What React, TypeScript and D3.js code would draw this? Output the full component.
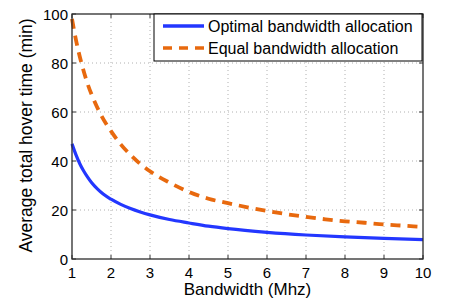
import React from "react";
import * as d3 from "d3";

// values
const optimalX = [1, 1.1, 1.2, 1.3, 1.4, 1.5, 1.65, 1.8, 2, 2.25, 2.5, 2.75, 3, 3.5, 4, 4.5, 5, 6, 7, 8, 9, 10];
const optimalY = [47, 42.6, 38.9, 35.9, 33.4, 31.2, 28.6, 26.5, 24.4, 22.3, 20.6, 19.2, 18.0, 16.1, 14.7, 13.4, 12.4, 10.9, 9.8, 9.0, 8.4, 7.9];

const equalX = [1, 1.1, 1.25, 1.4, 1.55, 1.75, 2, 2.25, 2.5, 2.75, 3, 3.5, 4, 4.5, 5, 5.5, 6, 6.5, 7, 7.5, 8, 8.5, 9, 9.5, 10];
const equalY = [98, 89.5, 79.5, 71.5, 65.3, 58.6, 52.2, 46.8, 42.5, 38.8, 35.8, 31.2, 27.4, 24.6, 22.8, 21.1, 19.6, 18.3, 17.2, 16.2, 15.4, 14.8, 14.1, 13.6, 13.1];

const xTicks = [1, 2, 3, 4, 5, 6, 7, 8, 9, 10];
const yTicks = [0, 20, 40, 60, 80, 100];

const seriesNames = ["Optimal bandwidth allocation", "Equal bandwidth allocation"];
const seriesColors = ["#2337ff", "#e8690e"];

const W = 452;
const H = 302;
const margin = { top: 14, right: 29, bottom: 43, left: 72 };
const font = "Liberation Sans, Arial, sans-serif";

export default function App() {
  const x = d3.scaleLinear().domain([1, 10]).range([margin.left, W - margin.right]);
  const y = d3.scaleLinear().domain([0, 100]).range([H - margin.bottom, margin.top]);

  const line = d3
    .line<[number, number]>()
    .x((d) => x(d[0]))
    .y((d) => y(d[1]))
    .curve(d3.curveMonotoneX);

  const optPts = optimalX.map((v, i) => [v, optimalY[i]] as [number, number]);
  const eqPts = equalX.map((v, i) => [v, equalY[i]] as [number, number]);

  const [x0, x1] = x.range();
  const [y0, y1] = y.range(); // y0 bottom, y1 top

  // legend
  const lg = { x: 154, y: 14, w: 268, h: 47 };

  return (
    <svg width={W} height={H} style={{ position: "absolute", left: 0, top: 0, fontFamily: font }}>
      <rect x={0} y={0} width={W} height={H} fill="#fff" />

      {/* grid */}
      <g stroke="#b0b0b0" strokeWidth={1} strokeDasharray="1,3">
        {xTicks.slice(1, -1).map((t) => (
          <line key={"gx" + t} x1={x(t)} x2={x(t)} y1={y0} y2={y1} />
        ))}
        {yTicks.slice(1, -1).map((t) => (
          <line key={"gy" + t} x1={x0} x2={x1} y1={y(t)} y2={y(t)} />
        ))}
      </g>

      {/* ticks, inward on all sides */}
      <g stroke="#333" strokeWidth={1}>
        {xTicks.map((t) => (
          <g key={"tx" + t}>
            <line x1={x(t)} x2={x(t)} y1={y0} y2={y0 - 4} />
            <line x1={x(t)} x2={x(t)} y1={y1} y2={y1 + 4} />
          </g>
        ))}
        {yTicks.map((t) => (
          <g key={"ty" + t}>
            <line x1={x0} x2={x0 + 4} y1={y(t)} y2={y(t)} />
            <line x1={x1} x2={x1 - 4} y1={y(t)} y2={y(t)} />
          </g>
        ))}
      </g>

      {/* series */}
      <path d={line(optPts) ?? ""} fill="none" stroke={seriesColors[0]} strokeWidth={3.2} />
      <path
        d={line(eqPts) ?? ""}
        fill="none"
        stroke={seriesColors[1]}
        strokeWidth={3.8}
        strokeDasharray="10,7"
      />

      {/* box */}
      <rect x={x0} y={y1} width={x1 - x0} height={y0 - y1} fill="none" stroke="#2b2b2b" strokeWidth={1.3} />

      {/* tick labels */}
      <g fontSize={15} fill="#000">
        {xTicks.map((t) => (
          <text key={"lx" + t} x={x(t)} y={y0 + 19} textAnchor="middle">
            {t}
          </text>
        ))}
        {yTicks.map((t) => (
          <text key={"ly" + t} x={x0 - 4} y={y(t) + 5.5} textAnchor="end">
            {t}
          </text>
        ))}
      </g>

      {/* axis labels */}
      <text x={(x0 + x1) / 2} y={295} textAnchor="middle" fontSize={17}>
        Bandwidth (Mhz)
      </text>
      <text
        transform={`translate(31.5,${(y0 + y1) / 2 - 1}) rotate(-90)`}
        textAnchor="middle"
        fontSize={17.5}
      >
        Average total hover time (min)
      </text>

      {/* legend */}
      <g>
        <rect x={lg.x} y={lg.y} width={lg.w} height={lg.h} fill="#fff" stroke="#000" strokeWidth={1} />
        {seriesNames.map((name, i) => {
          const cy = lg.y + 12 + i * 22;
          return (
            <g key={name}>
              <line
                x1={lg.x + 9}
                x2={lg.x + 50}
                y1={cy}
                y2={cy}
                stroke={seriesColors[i]}
                strokeWidth={3.5}
                strokeDasharray={i === 1 ? "9,7" : undefined}
              />
              <text x={lg.x + 54} y={cy + 6} fontSize={16}>
                {name}
              </text>
            </g>
          );
        })}
      </g>
    </svg>
  );
}
